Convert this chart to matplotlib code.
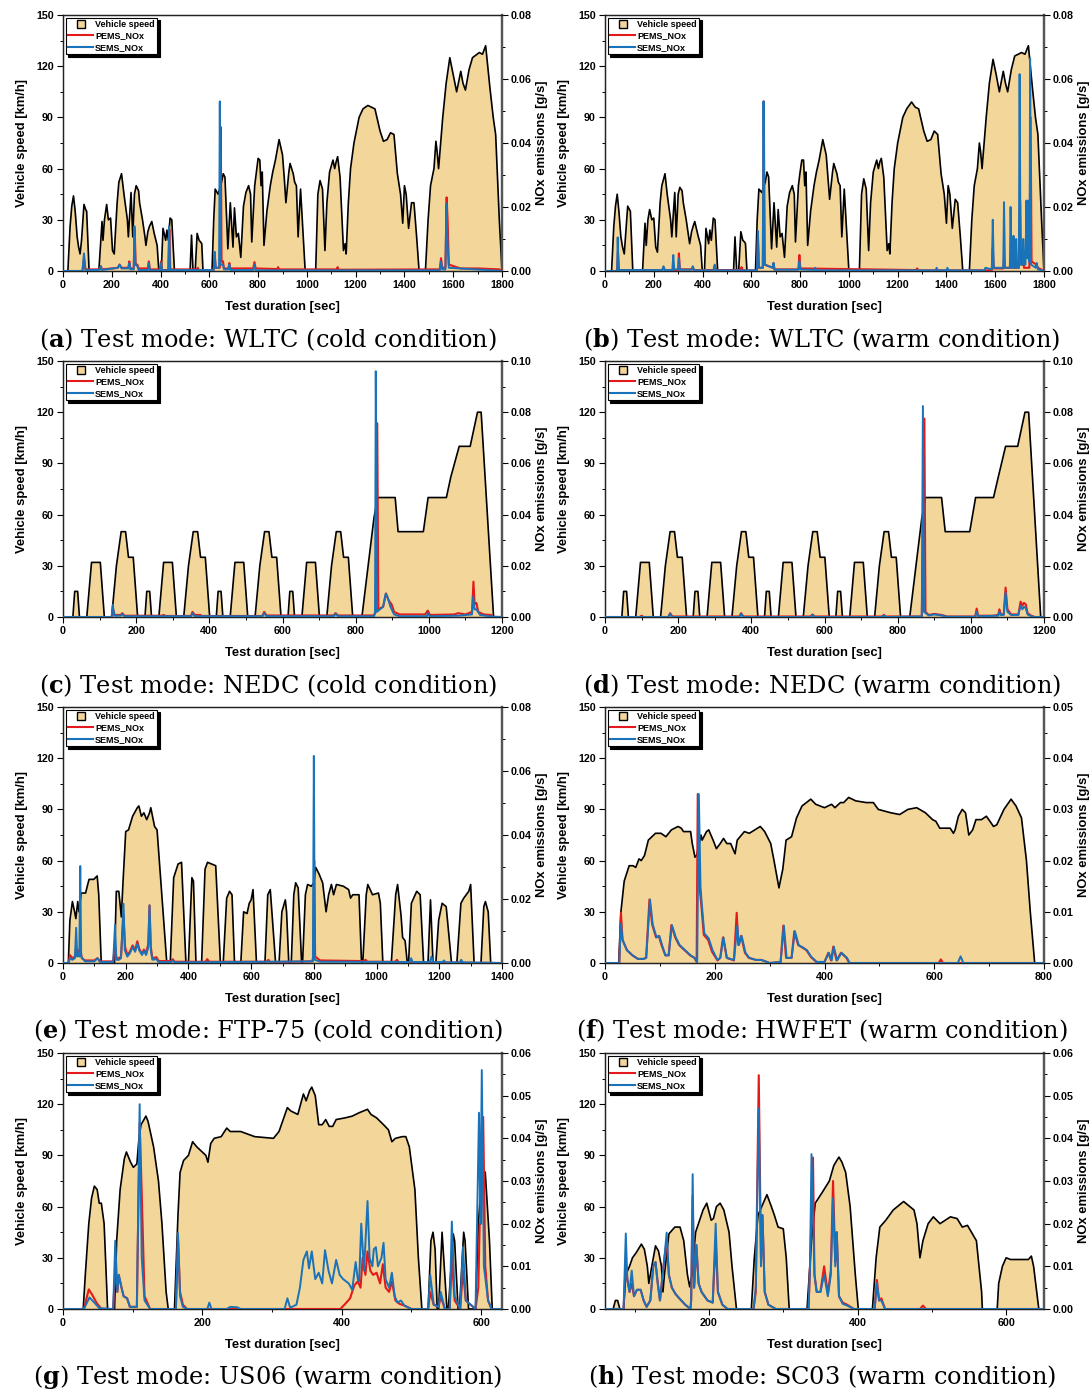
import numpy as np
import matplotlib
matplotlib.use("Agg")
import matplotlib.pyplot as plt
from matplotlib.lines import Line2D
from matplotlib.ticker import MultipleLocator, FormatStrFormatter

plt.rcParams['font.family'] = 'Liberation Sans'
plt.rcParams['font.weight'] = 'bold'
plt.rcParams['mathtext.fontset'] = 'dejavuserif'

# ---- data: (time [s], speed [km/h]) and (time [s], NOx [g/s]) ----
a_speed = [(0,0),(20,0),(29,26),(36,38),(43,44),(50,35),(58,20),(64,14),(70,10),(76,18),(86,39),(93,36),(97,35),(107,0),
           (147,0),(160,29),(164,18),(170,30),(179,39),(186,30),(195,31),(203,12),(210,10),(222,40),(229,52),(240,57),(250,45),
           (264,30),(268,20),(279,46),(286,20),(293,45),(300,50),(310,47),(314,40),(326,30),(336,20),(340,15),(348,23),(354,26),
           (364,29),(374,22),(386,15),(393,0),(403,0),(410,25),(421,18),(426,24),(432,18),(439,31),(446,30),(457,0),
           (521,0),(527,21),(533,0),(542,0),(550,22),(558,18),(564,17),(569,16),(574,0),
           (611,0),(618,30),(624,48),(636,45),(650,52),(657,57),(664,55),(671,30),(676,13),(686,40),(697,14),(703,37),(711,20),
           (719,22),(729,8),(740,38),(750,46),(761,50),(769,45),(774,17),(786,50),(793,58),(800,66),(807,65),(812,50),(817,58),
           (824,15),(836,35),(850,50),(860,58),(871,65),(886,77),(900,68),(907,55),(914,40),(926,58),(931,63),(944,57),(950,52),
           (957,50),(964,20),(974,48),(993,0),
           (1036,0),(1045,45),(1054,53),(1064,48),(1074,12),(1082,40),(1093,58),(1107,65),(1114,60),(1120,64),(1126,67),(1136,55),
           (1150,12),(1157,16),(1161,10),(1170,40),(1179,60),(1193,75),(1214,90),(1230,95),(1250,97),(1265,96),(1279,95),(1300,82),
           (1314,76),(1329,77),(1343,81),(1357,80),(1371,57),(1384,45),(1393,28),(1400,50),(1407,45),(1417,25),(1429,40),(1439,40),
           (1450,20),(1460,0),
           (1486,0),(1497,30),(1507,50),(1521,60),(1529,76),(1534,70),(1540,60),(1557,90),(1571,110),(1586,125),(1600,115),
           (1614,105),(1631,117),(1640,110),(1650,106),(1665,118),(1679,125),(1707,128),(1720,127),(1733,132),(1750,108),
           (1764,90),(1774,80),(1789,30),(1800,0)]
a_pems = [(0,0),(80,0),(86,0.004),(92,0.0005),(150,0.0005),(155,0.0015),(160,0.0005),(225,0.001),(232,0.002),(240,0.001),
          (268,0.001),(272,0.003),(276,0.0008),(290,0.0008),(294,0.013),(298,0.002),(305,0.002),(310,0.0008),(348,0.0008),
          (352,0.003),(356,0.0005),(398,0.0005),(402,0.003),(406,0.0003),(432,0.0003),(436,0.013),(440,0.0005),(550,0.0005),
          (553,0.001),(556,0.0002),(618,0.0003),(622,0.005),(626,0.001),(643,0.001),(647,0.045),(650,0.003),(656,0.003),
          (660,0.0008),(678,0.0008),(682,0.0025),(686,0.0008),(780,0.0008),(785,0.0028),(790,0.0008),(878,0.0006),(882,0.0012),
          (886,0.0005),(1122,0.0005),(1126,0.0012),(1130,0.0004),(1545,0.0005),(1550,0.004),(1555,0.001),(1568,0.001),
          (1573,0.023),(1577,0.016),(1582,0.002),(1630,0.0008),(1700,0.0008),(1790,0.0005),(1800,0)]
a_sems = [(0,0),(80,0),(86,0.0055),(92,0.0003),(150,0.0003),(155,0.0015),(160,0.0003),(225,0.001),(232,0.002),(240,0.0008),
          (268,0.0008),(272,0.0025),(276,0.0005),(290,0.0005),(293,0.014),(297,0.002),(305,0.0015),(310,0.0003),(348,0.0003),
          (352,0.0025),(356,0.0002),(398,0.0002),(402,0.0025),(406,0.0002),(432,0.0002),(435,0.014),(439,0.0003),(618,0.0003),
          (622,0.006),(626,0.001),(640,0.001),(643,0.053),(646,0.002),(656,0.002),(660,0.0005),(678,0.0005),(682,0.002),
          (686,0.0003),(780,0.0003),(785,0.002),(790,0.0002),(1545,0.0002),(1550,0.003),(1555,0.0005),(1568,0.0005),
          (1572,0.021),(1577,0.008),(1582,0.001),(1800,0)]

b_speed = [(0,0),(27,0),(36,26),(43,38),(50,45),(57,35),(65,20),(72,14),(79,10),(84,20),(93,38),(100,36),(104,35),(114,0),
           (154,0),(164,28),(169,15),(176,30),(183,36),(192,30),(200,31),(208,14),(215,11),(226,40),(233,50),(246,57),(255,45),
           (269,30),(274,20),(286,46),(292,20),(300,45),(307,49),(316,47),(321,40),(333,30),(343,20),(347,16),(355,23),(361,26),
           (368,29),(381,21),(392,15),(399,0),(408,0),(414,25),(425,16),(430,24),(436,18),(444,31),(451,30),(462,0),
           (527,0),(533,20),(540,0),(548,0),(557,23),(565,18),(572,17),(576,16),(582,0),
           (617,0),(624,30),(631,48),(643,46),(657,52),(664,58),(671,55),(678,30),(683,13),(693,40),(704,14),(710,36),(718,20),
           (726,22),(736,8),(747,38),(757,46),(768,50),(776,45),(781,17),(793,50),(800,58),(807,65),(814,65),(819,50),(824,58),
           (831,15),(843,35),(857,50),(867,58),(878,65),(893,77),(907,68),(914,55),(921,42),(933,58),(938,63),(951,57),(957,52),
           (964,50),(971,20),(981,48),(1000,0),
           (1043,0),(1052,45),(1061,54),(1071,48),(1081,12),(1089,40),(1100,58),(1114,65),(1121,60),(1127,64),(1133,66),(1143,55),
           (1157,12),(1164,16),(1168,10),(1177,40),(1186,60),(1200,75),(1221,90),(1237,95),(1257,99),(1272,96),(1286,95),(1307,82),
           (1321,76),(1336,77),(1350,82),(1364,80),(1378,57),(1391,45),(1400,28),(1407,50),(1414,45),(1424,25),(1436,42),(1446,40),
           (1457,20),(1467,0),
           (1494,0),(1504,30),(1514,50),(1527,60),(1535,75),(1540,70),(1546,60),(1563,90),(1576,110),(1591,124),(1604,115),
           (1617,105),(1633,117),(1642,110),(1651,105),(1666,118),(1680,126),(1708,128),(1722,127),(1736,132),(1752,108),
           (1765,90),(1775,80),(1790,30),(1800,0)]
b_pems = [(0,0),(50,0),(53,0.006),(57,0.0003),(235,0.0003),(240,0.0012),(245,0.0003),(300,0.0003),(303,0.0055),(307,0.0005),
          (355,0.0005),(360,0.0012),(365,0.0003),(445,0.0003),(450,0.0018),(455,0.0003),(556,0.0003),(560,0.0012),(564,0.0002),
          (623,0.0002),(627,0.01),(631,0.001),(647,0.001),(651,0.053),(655,0.002),(688,0.001),(691,0.0025),(695,0.0005),
          (793,0.0005),(797,0.005),(801,0.0008),(1275,0.0003),(1280,0.0008),(1285,0.0002),(1586,0.0002),(1590,0.007),
          (1594,0.0008),(1633,0.0008),(1636,0.004),(1640,0.001),(1660,0.001),(1663,0.005),(1667,0.001),(1697,0.001),
          (1702,0.022),(1706,0.002),(1712,0.002),(1715,0.004),(1718,0.001),(1740,0.001),(1745,0.048),(1749,0.003),
          (1768,0.002),(1775,0.001),(1800,0)]
b_sems = [(0,0),(50,0),(52,0.0105),(56,0.0003),(235,0.0003),(240,0.0015),(245,0.0003),(276,0.0003),(280,0.005),(284,0.0005),
          (300,0.0005),(303,0.004),(307,0.0004),(355,0.0004),(360,0.0015),(365,0.0002),(445,0.0002),(450,0.002),(455,0.0002),
          (623,0.0002),(627,0.0125),(631,0.001),(647,0.001),(650,0.053),(654,0.002),(688,0.001),(691,0.0025),(695,0.0004),
          (793,0.0004),(797,0.003),(801,0.0005),(858,0.0003),(862,0.001),(866,0.0002),(1355,0.0002),(1360,0.001),(1364,0.0002),
          (1400,0.0002),(1404,0.001),(1408,0.0002),(1555,0.0002),(1560,0.001),(1586,0.0005),(1590,0.016),(1594,0.001),
          (1633,0.001),(1636,0.0215),(1640,0.001),(1660,0.001),(1663,0.02),(1667,0.001),(1672,0.001),(1675,0.011),(1679,0.001),
          (1683,0.001),(1686,0.01),(1690,0.001),(1697,0.001),(1700,0.0615),(1704,0.002),(1712,0.002),(1715,0.01),(1719,0.002),
          (1724,0.002),(1728,0.022),(1731,0.004),(1735,0.022),(1738,0.003),(1741,0.003),(1743,0.0665),(1747,0.002),
          (1766,0.001),(1770,0.0025),(1775,0.0005),(1800,0)]

c_speed = [(0,0),(27,0),(32,15),(40,15),(45,0),(65,0),(78,32),(102,32),(113,0),(133,0),(146,30),(159,50),(171,50),(179,35),
           (192,35),(204,0),(224,0),(229,15),(237,15),(242,0),(262,0),(275,32),(299,32),(310,0),(330,0),(343,30),(356,50),
           (368,50),(376,35),(389,35),(401,0),(419,0),(424,15),(432,15),(437,0),(457,0),(470,32),(494,32),(505,0),(525,0),
           (538,30),(551,50),(563,50),(571,35),(584,35),(596,0),(615,0),(620,15),(628,15),(633,0),(653,0),(666,32),(690,32),
           (701,0),(721,0),(734,30),(747,50),(759,50),(767,35),(780,35),(792,0),
           (817,0),(850,58),(860,70),(908,70),(916,50),(985,50),(998,70),(1048,70),(1060,82),(1083,100),(1113,100),(1133,120),
           (1143,120),(1177,0),(1200,0)]
c_pems = [(0,0),(133,0),(137,0.003),(141,0.0008),(158,0.0008),(162,0.0015),(168,0.0005),(270,0.0005),(275,0.0008),
          (280,0.0004),(350,0.0004),(354,0.002),(360,0.0008),(375,0.0008),(380,0.0004),(545,0.0004),(550,0.002),(556,0.0006),
          (740,0.0006),(745,0.0015),(752,0.0006),(850,0.0006),(855,0.002),(859,0.0757),(862,0.003),(875,0.004),(883,0.0092),
          (890,0.0065),(898,0.005),(905,0.002),(920,0.001),(990,0.001),(997,0.0025),(1003,0.0008),(1070,0.001),(1080,0.0015),
          (1100,0.001),(1118,0.002),(1122,0.0138),(1125,0.005),(1130,0.0055),(1135,0.002),(1150,0.001),(1170,0.0008),
          (1175,0),(1200,0)]
c_sems = [(0,0),(133,0),(136,0.0047),(140,0.0005),(158,0.0005),(162,0.0012),(168,0.0003),(350,0.0003),(354,0.0015),
          (360,0.0003),(545,0.0003),(550,0.0015),(556,0.0003),(740,0.0003),(745,0.0012),(752,0.0003),(850,0.0003),
          (853,0.002),(855,0.096),(858,0.002),(875,0.004),(882,0.0091),(888,0.0075),(895,0.004),(905,0.001),(920,0.0003),
          (995,0.0003),(997,0.0015),(1003,0.0003),(1080,0.0005),(1118,0.001),(1121,0.008),(1125,0.003),(1130,0.003),
          (1140,0.0008),(1170,0.0002),(1200,0)]

d_speed = [(0,0),(46,0),(51,15),(59,15),(64,0),(84,0),(97,32),(121,32),(132,0),(152,0),(165,30),(178,50),(190,50),(198,35),
           (211,35),(223,0),(241,0),(246,15),(254,15),(259,0),(279,0),(292,32),(316,32),(327,0),(347,0),(360,30),(373,50),
           (385,50),(393,35),(406,35),(418,0),(436,0),(441,15),(449,15),(454,0),(474,0),(487,32),(511,32),(522,0),(542,0),
           (555,30),(568,50),(580,50),(588,35),(601,35),(613,0),(631,0),(636,15),(644,15),(649,0),(669,0),(682,32),(706,32),
           (717,0),(737,0),(750,30),(763,50),(775,50),(783,35),(796,35),(808,0),
           (833,0),(866,58),(876,70),(920,70),(930,50),(997,50),(1013,70),(1062,70),(1075,82),(1095,100),(1128,100),
           (1148,120),(1158,120),(1191,0),(1200,0)]
d_pems = [(0,0),(95,0),(100,0.0005),(105,0),(173,0),(178,0.0015),(184,0.0002),(367,0.0002),(372,0.0015),(378,0.0002),
          (562,0.0002),(567,0.001),(573,0.0002),(757,0.0002),(762,0.0008),(768,0.0002),(866,0.0002),(873,0.0775),(876,0.002),
          (885,0.0008),(900,0.0012),(920,0.0008),(935,0.0002),(1012,0.0002),(1016,0.0033),(1020,0.0005),(1060,0.0005),
          (1075,0.0008),(1078,0.003),(1082,0.001),(1090,0.001),(1095,0.0115),(1100,0.003),(1110,0.001),(1130,0.001),
          (1136,0.006),(1141,0.0045),(1145,0.0055),(1150,0.005),(1155,0.0015),(1165,0.0005),(1175,0),(1200,0)]
d_sems = [(0,0),(173,0),(178,0.0012),(184,0),(367,0),(372,0.0012),(378,0),(562,0),(567,0.0008),(573,0),(757,0),
          (762,0.0006),(768,0),(866,0.0002),(869,0.0824),(872,0.002),(885,0.0006),(900,0.001),(920,0.0006),(935,0.0001),
          (1012,0.0001),(1016,0.002),(1020,0.0003),(1075,0.0005),(1078,0.002),(1082,0.0008),(1090,0.0008),(1095,0.0095),
          (1100,0.002),(1110,0.0008),(1130,0.0008),(1136,0.0045),(1141,0.003),(1145,0.004),(1150,0.0035),(1155,0.001),
          (1165,0.0003),(1175,0),(1200,0)]

e_speed = [(0,0),(17,0),(22,25),(30,36),(37,30),(41,26),(47,36),(51,30),(58,41),(72,41),(83,49),(98,49),(109,51),(114,40),
           (122,0),(164,0),(170,42),(178,42),(186,27),(191,46),(200,77),(209,78),(222,86),(237,91),(242,92),(250,86),(258,88),
           (267,84),(276,88),(280,91),(292,80),(300,78),(313,45),(331,0),(342,0),(353,50),(367,58),(378,59),(392,0),
           (400,0),(411,50),(416,48),(424,0),(442,0),(453,55),(461,59),(487,57),(502,0),(511,0),(522,38),(531,42),(539,40),
           (547,0),(567,0),(576,30),(587,29),(594,35),(600,37),(606,43),(617,0),(644,0),(653,40),(661,43),(678,0),(689,0),
           (698,30),(709,37),(713,30),(720,0),(728,0),(736,40),(742,47),(750,44),(761,0),(764,0),(773,40),(780,46),(792,45),
           (800,47),(806,56),(817,52),(828,47),(839,30),(847,40),(856,46),(863,40),(872,46),(894,45),(911,43),(917,38),
           (924,40),(944,40),(952,0),(956,0),(967,40),(972,46),(987,40),(1006,41),(1012,35),(1020,0),(1047,0),(1061,40),
           (1067,46),(1078,28),(1083,15),(1091,13),(1098,0),(1102,0),(1111,35),(1128,42),(1139,40),(1150,0),(1164,0),
           (1172,37),(1180,0),(1189,0),(1198,25),(1209,35),(1222,33),(1239,0),(1256,0),(1269,35),(1278,38),(1294,42),
           (1300,46),(1311,0),(1333,0),(1342,33),(1347,36),(1356,30),(1364,0),(1400,0)]
e_pems = [(0,0),(18,0),(22,0.0025),(30,0.0015),(38,0.002),(42,0.005),(45,0.003),(48,0.004),(52,0.0025),(55,0.0045),
          (60,0.0015),(70,0.0008),(100,0.0008),(110,0.0015),(118,0.0005),(160,0.0005),(166,0.006),(170,0.0015),(178,0.0015),
          (185,0.002),(193,0.015),(198,0.005),(205,0.0025),(213,0.0035),(222,0.0055),(230,0.004),(237,0.0068),(243,0.0045),
          (252,0.0028),(258,0.0042),(265,0.003),(272,0.006),(276,0.018),(280,0.005),(285,0.0015),(298,0.0018),(305,0.0006),
          (345,0.0006),(350,0.0012),(356,0.0004),(455,0.0004),(460,0.0012),(466,0.0004),(650,0.0004),(655,0.001),(660,0.0003),
          (795,0.0005),(798,0.002),(801,0.032),(804,0.002),(820,0.0008),(960,0.0006),(965,0.001),(970,0.0004),(1060,0.0004),
          (1065,0.001),(1070,0.0003),(1400,0)]
e_sems = [(0,0),(18,0),(22,0.0015),(30,0.001),(38,0.0015),(42,0.011),(45,0.002),(48,0.003),(52,0.002),(55,0.0303),
          (58,0.002),(70,0.0005),(100,0.0005),(110,0.0015),(118,0.0003),(160,0.0003),(166,0.012),(170,0.001),(178,0.001),
          (185,0.0015),(193,0.0185),(197,0.004),(205,0.002),(213,0.003),(222,0.005),(230,0.0035),(237,0.006),(243,0.004),
          (252,0.0025),(258,0.0038),(265,0.0025),(272,0.005),(276,0.018),(280,0.004),(285,0.001),(298,0.0012),(305,0.0003),
          (345,0.0003),(350,0.0008),(356,0.0002),(797,0.0005),(800,0.0647),(803,0.001),(820,0.0004),(1105,0.0003),
          (1110,0.0015),(1115,0.0003),(1170,0.0003),(1175,0.002),(1180,0.0003),(1210,0.0003),(1215,0.0008),(1220,0.0002),
          (1265,0.0002),(1270,0.001),(1275,0.0002),(1400,0)]

f_speed = [(0,0),(25,0),(29,30),(35,48),(44,57),(51,57),(56,56),(62,61),(66,60),(72,63),(79,72),(92,76),(102,76),(111,74),
           (121,78),(133,80),(139,79),(143,77),(156,77),(159,70),(164,62),(167,63),(175,75),(177,72),(185,77),(189,78),
           (197,72),(203,67),(210,70),(216,73),(222,70),(229,70),(237,64),(241,72),(254,77),(263,76),(273,78),(283,80),
           (291,77),(302,70),(308,60),(317,44),(324,55),(330,72),(340,74),(349,85),(359,92),(375,96),(384,93),(400,91),
           (413,93),(419,91),(429,94),(435,94),(444,97),(457,95),(476,94),(489,94),(498,90),(521,88),(537,87),(552,90),
           (568,91),(584,88),(597,84),(603,83),(610,79),(629,79),(635,76),(638,78),(644,86),(651,90),(657,88),(663,75),
           (670,78),(676,84),(686,84),(695,86),(708,80),(714,81),(727,90),(740,96),(749,92),(759,85),(768,60),(775,30),
           (783,0),(800,0)]
f_pems = [(0,0),(26,0),(29,0.0098),(32,0.0045),(40,0.0025),(50,0.0015),(60,0.0008),(70,0.0008),(75,0.001),(81,0.0124),
          (86,0.0075),(93,0.005),(98,0.0053),(103,0.0035),(110,0.0015),(116,0.0015),(121,0.0074),(128,0.005),(135,0.0035),
          (145,0.0025),(155,0.0015),(163,0.001),(167,0.0002),(169,0.033),(172,0.015),(175,0.012),(180,0.0055),(188,0.0045),
          (195,0.0022),(205,0.0005),(210,0.001),(215,0.005),(222,0.001),(235,0.0005),(240,0.0098),(243,0.0035),(248,0.0053),
          (255,0.002),(262,0.001),(275,0.0006),(285,0.0006),(300,0),(320,0.0002),(325,0.0073),(330,0.001),(340,0.001),
          (345,0.0062),(352,0.0035),(360,0.003),(367,0.0025),(375,0.0012),(385,0.0002),(400,0.0002),(407,0.002),(412,0.0005),
          (416,0.0032),(422,0.0005),(430,0.002),(440,0.001),(445,0),(608,0),(612,0.0007),(616,0),(800,0)]
f_sems = [(0,0),(26,0),(29,0.0077),(32,0.0045),(40,0.0025),(50,0.0015),(60,0.0008),(70,0.0008),(75,0.001),(82,0.0124),
          (87,0.0075),(94,0.005),(99,0.0053),(104,0.0035),(110,0.0015),(116,0.0015),(122,0.0074),(129,0.005),(136,0.0035),
          (146,0.0025),(156,0.0015),(163,0.001),(168,0.0002),(171,0.033),(174,0.015),(176,0.012),(181,0.0058),(189,0.0048),
          (196,0.0025),(205,0.0006),(210,0.001),(216,0.005),(222,0.001),(235,0.0006),(241,0.0073),(244,0.0035),(249,0.0053),
          (256,0.002),(263,0.001),(275,0.0006),(285,0.0006),(300,0),(320,0.0002),(326,0.0073),(331,0.001),(340,0.001),
          (346,0.0062),(353,0.0035),(361,0.003),(368,0.0025),(376,0.0012),(386,0.0002),(400,0.0002),(408,0.002),(413,0.0005),
          (417,0.0032),(423,0.0005),(431,0.002),(441,0.001),(446,0),(643,0),(648,0.0013),(653,0),(800,0)]

g_speed = [(0,0),(29,0),(32,20),(37,50),(41,65),(45,72),(49,70),(52,62),(55,62),(59,50),(64,0),(74,0),(77,40),(82,70),
           (88,88),(91,92),(97,86),(101,83),(106,85),(109,100),(112,108),(119,113),(122,110),(130,95),(137,75),(142,50),
           (148,10),(151,0),(160,0),(165,55),(168,80),(173,87),(180,90),(186,98),(192,95),(205,90),(208,86),(212,97),
           (217,100),(227,101),(235,106),(240,104),(255,104),(275,101),(302,100),(310,104),(322,118),(327,116),(332,115),
           (337,114),(345,126),(349,122),(354,128),(357,130),(362,125),(367,108),(372,108),(377,111),(382,107),(387,107),
           (392,111),(405,112),(415,113),(425,115),(437,117),(442,114),(450,112),(460,108),(467,105),(472,98),(477,100),
           (487,101),(492,101),(497,95),(505,70),(510,30),(515,0),(524,0),(528,40),(531,45),(534,35),(537,0),(539,0),
           (544,45),(551,0),(553,0),(560,44),(562,40),(567,0),(569,0),(575,45),(577,40),(582,0),(592,0),(596,50),(602,82),
           (606,80),(612,40),(616,0),(630,0)]
g_pems = [(0,0),(30,0),(37,0.0046),(42,0.0033),(48,0.0015),(55,0),(72,0),(75,0.0095),(78,0.004),(80,0.008),(84,0.005),
          (87,0.003),(92,0.0025),(96,0.0005),(106,0.0005),(110,0.0435),(113,0.027),(117,0.003),(125,0),(162,0),(165,0.0165),
          (168,0.004),(172,0.001),(178,0),(398,0),(405,0.0012),(412,0.0025),(418,0.0055),(423,0.0065),(427,0.005),(430,0.012),
          (434,0.008),(437,0.0135),(441,0.009),(445,0.008),(450,0.0085),(455,0.006),(459,0.0105),(463,0.005),(468,0.004),
          (472,0.0065),(477,0.002),(483,0.0012),(490,0.0008),(500,0),(524,0),(527,0.004),(532,0.001),(539,0.0005),
          (542,0.003),(548,0),(555,0),(558,0.012),(562,0.002),(570,0),(574,0.009),(578,0.002),(592,0),(596,0.005),(598,0.02),
          (600,0.02),(603,0.045),(606,0.01),(610,0.002),(615,0),(630,0)]
g_sems = [(0,0),(30,0),(38,0.0027),(45,0.0015),(52,0.0002),(72,0),(75,0.016),(78,0.004),(80,0.008),(84,0.005),(87,0.003),
          (92,0.0025),(96,0.0005),(106,0.0005),(110,0.048),(113,0.012),(117,0.002),(125,0),(162,0),(165,0.0178),(168,0.003),
          (172,0.0005),(178,0),(207,0),(210,0.0015),(213,0),(235,0),(240,0.0005),(250,0.0004),(255,0),(318,0),(322,0.0025),
          (326,0.0003),(335,0.001),(340,0.005),(345,0.0115),(350,0.0135),(353,0.0095),(357,0.0135),(362,0.007),(367,0.0085),
          (372,0.006),(376,0.0138),(381,0.009),(386,0.006),(392,0.0115),(397,0.008),(402,0.007),(410,0.006),(415,0.0045),
          (420,0.011),(423,0.007),(425,0.0065),(428,0.02),(432,0.009),(437,0.0253),(440,0.012),(444,0.01),(446,0.014),
          (449,0.0145),(452,0.01),(457,0.012),(460,0.0155),(463,0.007),(468,0.005),(472,0.0085),(476,0.003),(480,0.0015),
          (485,0.002),(490,0.0008),(500,0),(524,0),(527,0.008),(532,0.001),(539,0.0005),(542,0.004),(548,0),(555,0),
          (558,0.0205),(562,0.003),(570,0),(574,0.0145),(578,0.002),(592,0),(597,0.046),(599,0.02),(601,0.056),(604,0.01),
          (610,0.002),(615,0),(630,0)]

h_speed = [(60,0),(71,0),(74,5),(77,5),(80,0),(85,0),(88,20),(93,25),(97,30),(102,33),(109,38),(113,35),(117,25),(119,15),
           (123,25),(128,37),(132,34),(136,25),(138,10),(140,20),(146,44),(154,48),(161,48),(166,40),(171,20),(174,13),
           (177,20),(182,45),(192,58),(197,62),(203,52),(206,53),(210,60),(215,62),(220,58),(227,45),(231,25),(237,0),
           (257,0),(261,30),(266,55),(276,65),(278,67),(284,60),(288,55),(293,48),(300,47),(304,30),(308,0),(332,0),(338,40),
           (343,62),(352,68),(362,75),(368,84),(372,87),(375,89),(379,86),(384,80),(390,60),(397,20),(401,0),(420,0),(425,30),
           (430,48),(438,52),(448,58),(462,63),(476,58),(480,50),(484,30),(488,40),(495,50),(502,54),(511,50),(525,54),
           (534,53),(541,48),(548,49),(560,40),(567,10),(568,0),(588,0),(590,15),(595,25),(600,30),(606,29),(630,29),
           (634,31),(637,25),(644,0),(651,0)]
h_pems = [(60,0),(85,0),(88,0.011),(90,0.007),(93,0.004),(96,0.006),(99,0.003),(103,0.0045),(108,0.0045),(112,0.002),
          (116,0.0005),(121,0.002),(125,0.01),(128,0.011),(131,0.006),(134,0.002),(140,0.012),(143,0.016),(146,0.008),
          (150,0.005),(155,0.0035),(160,0.0025),(168,0.001),(175,0),(176,0.002),(178,0.0265),(180,0.005),(183,0.015),
          (186,0.006),(190,0.004),(198,0.002),(205,0.0015),(209,0.016),(212,0.004),(218,0.001),(225,0),(260,0),(263,0.004),
          (267,0.0548),(270,0.012),(272,0.022),(275,0.004),(280,0.001),(290,0),(334,0),(336,0.01),(340,0.0355),(342,0.008),
          (345,0.004),(350,0.004),(355,0.01),(360,0.0035),(364,0.009),(367,0.03),(370,0.011),(372,0.018),(375,0.003),
          (380,0.0015),(386,0.001),(395,0),(423,0),(426,0.0068),(429,0.002),(432,0.0025),(437,0),(484,0),(488,0.0008),
          (492,0),(651,0)]
h_sems = [(60,0),(85,0),(88,0.0177),(90,0.007),(93,0.004),(96,0.009),(99,0.003),(103,0.0045),(108,0.0045),(112,0.002),
          (116,0.0005),(121,0.002),(125,0.01),(128,0.011),(131,0.006),(134,0.002),(140,0.012),(143,0.0179),(146,0.008),
          (150,0.005),(155,0.0035),(160,0.0025),(168,0.001),(175,0),(176,0.002),(178,0.0316),(180,0.005),(183,0.015),
          (186,0.006),(190,0.004),(198,0.002),(205,0.0015),(209,0.02),(212,0.004),(218,0.001),(225,0),(260,0),(263,0.005),
          (267,0.047),(270,0.01),(272,0.022),(275,0.004),(280,0.001),(290,0),(334,0),(336,0.01),(338,0.0363),(342,0.008),
          (345,0.004),(350,0.004),(355,0.008),(360,0.003),(364,0.008),(367,0.026),(370,0.01),(372,0.018),(375,0.003),
          (380,0.0012),(386,0.0008),(395,0),(423,0),(426,0.006),(429,0.002),(432,0.002),(437,0),(651,0)]

captions = ["a) Test mode: WLTC (cold condition)", "b) Test mode: WLTC (warm condition)",
            "c) Test mode: NEDC (cold condition)", "d) Test mode: NEDC (warm condition)",
            "e) Test mode: FTP-75 (cold condition)", "f) Test mode: HWFET (warm condition)",
            "g) Test mode: US06 (warm condition)", "h) Test mode: SC03 (warm condition)"]

FILL = '#F3D699'
RED = '#E3191C'
BLUE = '#1A72B8'

W, H = 1092, 1392
fig = plt.figure(figsize=(W / 100, H / 100), dpi=100)


def add_px_axes(left, top, right, bottom):
    return fig.add_axes([left / W, 1 - bottom / H, (right - left) / W, (bottom - top) / H])


def draw_panel(ax, speed, pems, sems, xlim, nox_max, nox_step):
    st, sv = np.array(speed).T
    pt, pv = np.array(pems).T
    et, ev = np.array(sems).T

    ax.fill_between(st, 0, sv, color=FILL, lw=0, zorder=1)
    ax.plot(st, sv, color='black', lw=1.2, zorder=2)
    ax.set_xlim(*xlim)
    ax.set_ylim(0, 150)
    ax.yaxis.set_major_locator(MultipleLocator(30))
    ax.yaxis.set_minor_locator(MultipleLocator(15))
    ax.xaxis.set_major_locator(MultipleLocator(200))
    ax.xaxis.set_minor_locator(MultipleLocator(100))
    ax.xaxis.set_ticks_position('bottom')
    ax.yaxis.set_ticks_position('left')
    ax.tick_params(which='major', direction='out', length=4, width=0.8, labelsize=7.7, pad=2.5)
    ax.tick_params(which='minor', direction='out', length=2.3, width=0.7)
    ax.set_xlabel('Test duration [sec]', fontsize=9.4, fontweight='bold', labelpad=8)
    ax.set_ylabel('Vehicle speed [km/h]', fontsize=9.4, fontweight='bold', labelpad=6)

    ax2 = ax.twinx()
    ax2.plot(pt, pv, color=RED, lw=1.5, zorder=3)
    ax2.plot(et, ev, color=BLUE, lw=1.4, zorder=4)
    ax2.set_ylim(0, nox_max)
    ax2.yaxis.set_major_locator(MultipleLocator(nox_step))
    ax2.yaxis.set_minor_locator(MultipleLocator(nox_step / 2))
    ax2.yaxis.set_major_formatter(FormatStrFormatter('%.2f'))
    ax2.tick_params(which='major', direction='out', length=4, width=0.8, labelsize=7.7, pad=2.5)
    ax2.tick_params(which='minor', direction='out', length=2.3, width=0.7)
    ax2.set_ylabel('NOx emissions [g/s]', fontsize=9.4, fontweight='bold', labelpad=3)
    for a in (ax, ax2):
        for side in ('left', 'bottom', 'top'):
            a.spines[side].set_linewidth(0.9)
            a.spines[side].set_color('#222222')
        a.spines['right'].set_linewidth(1.6)
        a.spines['right'].set_color('#555555')

    handles = [Line2D([], [], ls='none', marker='s', markersize=6, markerfacecolor=FILL,
                      markeredgecolor='black', markeredgewidth=1.0),
               Line2D([], [], color=RED, lw=1.5),
               Line2D([], [], color=BLUE, lw=1.5)]
    leg = ax2.legend(handles, ['Vehicle speed', 'PEMS_NOx', 'SEMS_NOx'], loc='upper left',
                     prop={'size': 6.5, 'weight': 'bold'}, handlelength=2.8, handletextpad=0.2,
                     borderpad=0.25, labelspacing=0.28, borderaxespad=0.3, fancybox=False,
                     framealpha=1, edgecolor='black', shadow={'color': 'black', 'alpha': 1})
    leg.get_frame().set_linewidth(0.8)
    return ax2


panels = [(a_speed, a_pems, a_sems, (0, 1800), 0.08, 0.02),
          (b_speed, b_pems, b_sems, (0, 1800), 0.08, 0.02),
          (c_speed, c_pems, c_sems, (0, 1200), 0.10, 0.02),
          (d_speed, d_pems, d_sems, (0, 1200), 0.10, 0.02),
          (e_speed, e_pems, e_sems, (0, 1400), 0.08, 0.02),
          (f_speed, f_pems, f_sems, (0, 800), 0.05, 0.01),
          (g_speed, g_pems, g_sems, (0, 630), 0.06, 0.01),
          (h_speed, h_pems, h_sems, (60, 651), 0.06, 0.01)]

col_lr = [(63, 502), (605, 1044)]
row_tb = [(15, 271), (361, 617), (707, 963), (1053, 1309)]
cap_y = [340, 686, 1031, 1377]
cap_x = [268, 822]

for i, (speed, pems, sems, xlim, nmax, nstep) in enumerate(panels):
    r, c = divmod(i, 2)
    l, rr = col_lr[c]
    t, b = row_tb[r]
    ax = add_px_axes(l, t, rr, b)
    draw_panel(ax, speed, pems, sems, xlim, nmax, nstep)
    letter, rest = captions[i].split(')', 1)
    fig.text(cap_x[c] / W, 1 - cap_y[r] / H, '($\\mathbf{' + letter + '}$)' + rest,
             ha='center', va='center', fontsize=17.3, family='DejaVu Serif', fontweight='normal')

fig.savefig('out.png', dpi=100)
